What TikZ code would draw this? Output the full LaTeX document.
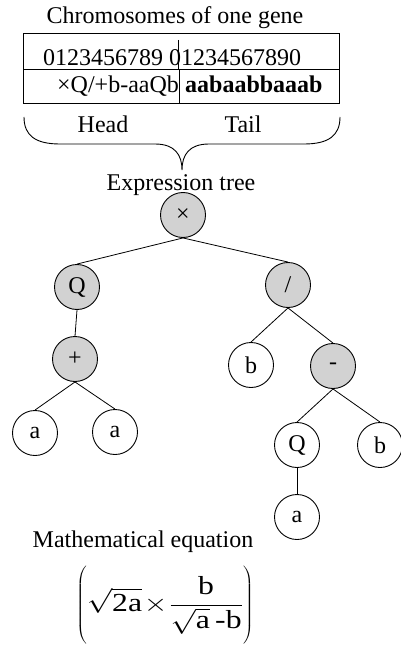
\documentclass[tikz,border=0pt]{standalone}
\usepackage{fontspec}
\setmainfont{Liberation Serif}
\definecolor{opfill}{RGB}{210,210,210}
\tikzset{
  treenode/.style={circle, draw, line width=0.9pt, minimum size=45pt, inner sep=0pt, font=\fontsize{24}{28}\selectfont},
  opnode/.style={treenode, fill=opfill},
  leafnode/.style={treenode, fill=white},
  edge/.style={line width=0.8pt},
  txt/.style={inner sep=0pt, font=\fontsize{24}{28}\selectfont},
  tbl/.style={line width=0.9pt}
}
\begin{document}
\begin{tikzpicture}[x=1pt, y=-1pt]
\useasboundingbox (0,0) rectangle (401,647);
% title
\node[txt, anchor=base] (title) at (175,24) {Chromosomes of one gene};
% table
\draw[tbl] (23,33) rectangle (339,103);
\draw[tbl] (23,69) -- (339,69);
\draw[tbl] (178,40) -- (178,69);
\draw[tbl] (179,69) -- (179,103);
\node[txt, anchor=base west] (idx) at (43,66) {0123456789 01234567890};
\node[txt, anchor=base west] (head) at (57,93) {×Q/+b-aaQb};
\node[txt, anchor=base west] (tail) at (185,93) {\bfseries aabaabbaaab};
% brace
\draw[line width=0.9pt] (24,117) .. controls (24,136) and (36,144) .. (60,144) -- (155,144)
  .. controls (175,144) and (182,155) .. (182,170)
  .. controls (182,155) and (189,144) .. (209,144) -- (304,144)
  .. controls (328,144) and (340,136) .. (340,117);
\node[txt, anchor=base] (headlbl) at (103,133) {Head};
\node[txt, anchor=base] (taillbl) at (243,133) {Tail};
\node[txt, anchor=base] (exprlbl) at (181,190) {Expression tree};
% tree
\node[opnode] (root) at (183,215) {×};
\node[opnode] (q1) at (77,287) {Q};
\node[opnode] (div) at (288,285) {/};
\node[opnode] (plus) at (75,359) {+};
\node[leafnode] (b1) at (251,365) {b};
\node[opnode] (minus) at (333,366) {-};
\node[leafnode] (a1) at (35,433) {a};
\node[leafnode] (a2) at (115,432) {a};
\node[leafnode] (q2) at (297,445) {Q};
\node[leafnode] (b2) at (380,445) {b};
\node[leafnode] (a3) at (297,517) {a};
\draw[edge] (root.south) -- (q1.north);
\draw[edge] (root.south) -- (div.north);
\draw[edge] (q1.south) -- (plus.north);
\draw[edge] (div.south) -- (b1.north);
\draw[edge] (div.south) -- (minus.north);
\draw[edge] (plus.south) -- (a1.north);
\draw[edge] (plus.south) -- (a2.north);
\draw[edge] (minus.south) -- (q2.north);
\draw[edge] (minus.south) -- (b2.north);
\draw[edge] (q2.south) -- (a3.north);
% equation
\node[txt, anchor=base] (mathlbl) at (143,547) {Mathematical equation};
\node[inner sep=0pt, font=\fontsize{26}{30}\selectfont, xscale=1.22, transform shape] (eq) at (165,605) {$\displaystyle\left(\rule[-33pt]{0pt}{79pt}\sqrt{\mbox{2a}}\!\times\!\frac{\mbox{b}}{\sqrt{\mbox{a}}\mbox{\,-b}}\right)$};
\end{tikzpicture}
\end{document}
